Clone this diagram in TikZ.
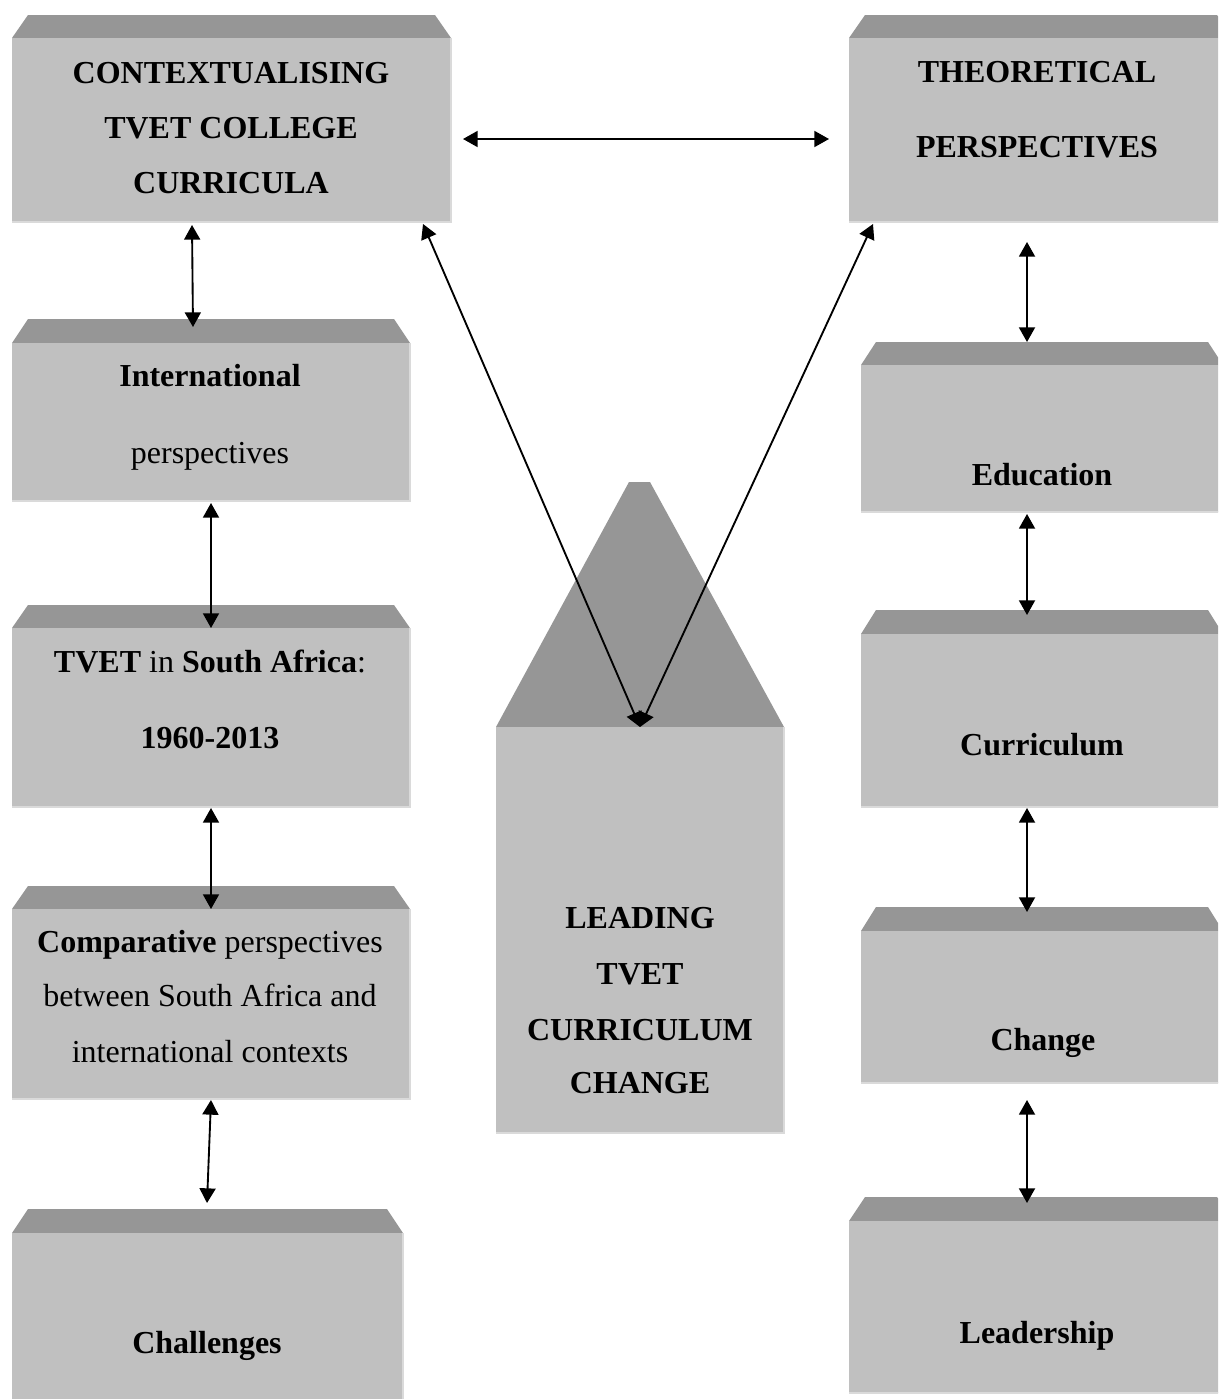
\documentclass[tikz,border=0pt]{standalone}
\usepackage{fontspec}
\setmainfont{Liberation Serif}
\usetikzlibrary{arrows.meta,calc}
\definecolor{bodyc}{HTML}{C0C0C0}
\definecolor{topc}{HTML}{969696}
\definecolor{edgec}{HTML}{DADADA}
\tikzset{
  bodybox/.style={rectangle, fill=bodyc, inner sep=0pt, outer sep=0pt, anchor=north west},
  lbl/.style={anchor=base, inner sep=0pt, font=\fontsize{24}{28}\selectfont},
  blbl/.style={anchor=base, inner sep=0pt, font=\fontsize{24}{28}\selectfont\bfseries},
  link/.style={{Triangle[length=11pt,width=12pt]}-{Triangle[length=11pt,width=12pt]}, line width=1.4pt},
}
\newcommand\bevbox[7]{%
  \fill[topc] (#2,#5) -- ({#2+#7},#4) -- ({#3-#7},#4) -- (#3,#5) -- cycle;
  \node[bodybox, minimum width={(#3-#2)*0.75pt}, minimum height={(#6-#5)*0.75pt}] (#1) at (#2,#5) {};
  \draw[edgec, line width=1pt] (#1.north east) -- (#1.south east) -- (#1.south west);
}
\begin{document}
\begin{tikzpicture}[x=0.75pt,y=-0.75pt]
\useasboundingbox (0,0) rectangle (1218,1399);
\clip (0,0) rectangle (1218,1399);
\fill[white] (0,0) rectangle (1218,1399);

% left column
\bevbox{A}{12}{451}{15}{38}{222}{16}
\bevbox{B}{12}{410}{319}{343}{501}{16}
\bevbox{C}{12}{410}{605}{628}{807}{16}
\bevbox{D}{12}{410}{886}{909}{1099}{16}
\bevbox{E}{12}{403}{1209}{1233}{1420}{16}
% right column
\bevbox{F}{849}{1233}{15}{38}{222}{16}
\bevbox{G}{861}{1223}{342}{365}{512}{15}
\bevbox{H}{861}{1223}{610}{634}{807}{15}
\bevbox{I}{861}{1223}{907}{931}{1083}{15}
\bevbox{J}{849}{1233}{1197}{1221}{1393}{16}
% centre house
\fill[topc] (496,727) -- (629,482) -- (650,482) -- (784,727) -- cycle;
\node[bodybox, minimum width={288*0.75pt}, minimum height={406*0.75pt}] (K) at (496,727) {};
\draw[edgec, line width=1pt] (K.north east) -- (K.south east) -- (K.south west);

% texts
\node[blbl] (tA1) at (231,83) {CONTEXTUALISING};
\node[blbl] (tA2) at (231,138) {TVET COLLEGE};
\node[blbl] (tA3) at (231,193) {CURRICULA};
\node[blbl] (tF1) at (1037,82) {THEORETICAL};
\node[blbl] (tF2) at (1037,157) {PERSPECTIVES};
\node[blbl] (tB1) at (210,386) {International};
\node[lbl] (tB2) at (210,463) {perspectives};
\node[lbl] (tC1) at (210,672) {\textbf{TVET} in \textbf{South Africa}:};
\node[blbl] (tC2) at (210,748) {1960-2013};
\node[lbl] (tD1) at (210,952) {\textbf{Comparative} perspectives};
\node[lbl] (tD2) at (210,1006) {between South Africa and};
\node[lbl] (tD3) at (210,1062) {international contexts};
\node[blbl] (tE1) at (207,1353) {Challenges};
\node[blbl] (tG1) at (1042,485) {Education};
\node[blbl] (tH1) at (1042,755) {Curriculum};
\node[blbl] (tI1) at (1043,1050) {Change};
\node[blbl] (tJ1) at (1037,1343) {Leadership};
\node[blbl] (tK1) at (640,928) {LEADING};
\node[blbl] (tK2) at (640,984) {TVET};
\node[blbl] (tK3) at (640,1040) {CURRICULUM};
\node[blbl] (tK4) at (640,1093) {CHANGE};

% connectors
\draw[link] ($(A.east)+(12,9)$) -- ($(F.west)+(-20,9)$);
\draw[link] ($(A.south east)+(-28,2)$) -- (K.north);
\draw[link] ($(F.south west)+(24,2)$) -- (K.north);
\draw[link] ($(A.south)+(-39.5,3)$) -- ($(B.north)+(-18,-16)$);
\draw[link] ($(B.south)+(0,2)$) -- (C.north);
\draw[link] ($(C.south)+(0,1)$) -- (D.north);
\draw[link] ($(D.south)+(0,1)$) -- ($(E.north)+(-0.5,-30)$);
\draw[link] ($(F.south)+(-14,20)$) -- ($(G.north)+(-15,-23)$);
\draw[link] ($(G.south)+(-15,2)$) -- ($(H.north)+(-15,-19)$);
\draw[link] ($(H.south)+(-15,1)$) -- ($(I.north)+(-15,-19)$);
\draw[link] ($(I.south)+(-15,17)$) -- ($(J.north)+(-14,-18)$);
\end{tikzpicture}
\end{document}
